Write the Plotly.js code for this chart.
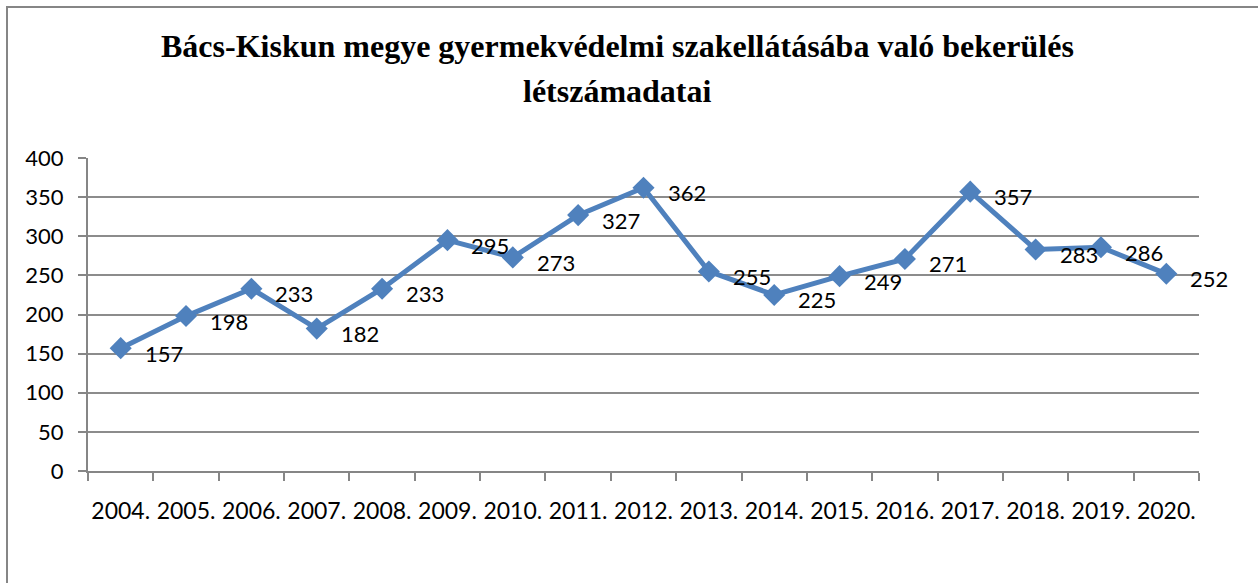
<!DOCTYPE html>
<html>
<head>
<meta charset="utf-8">
<script src="https://cdn.plot.ly/plotly-3.0.1.min.js"></script>
<style>
  html, body { margin: 0; padding: 0; background: #fff; overflow: hidden; }
  #chart { width: 1258px; height: 583px; }
  #frame { position: absolute; left: 6px; top: 6px; width: 1300px; height: 640px;
           border-left: 2px solid #868686; border-top: 2px solid #868686; pointer-events: none; }
</style>
</head>
<body>
<div id="chart"></div>
<div id="frame"></div>
<script>
const years = ["2004.", "2005.", "2006.", "2007.", "2008.", "2009.", "2010.", "2011.", "2012.",
               "2013.", "2014.", "2015.", "2016.", "2017.", "2018.", "2019.", "2020."];
const values = [157, 198, 233, 182, 233, 295, 273, 327, 362, 255, 225, 249, 271, 357, 283, 286, 252];
const yTicks = [0, 50, 100, 150, 200, 250, 300, 350, 400];
const titleLine1 = "Bács-Kiskun megye gyermekvédelmi szakellátásába való bekerülés";
const titleLine2 = "létszámadatai";

const FONT = "Lato, 'Open Sans', sans-serif";
const SERIF = "'Liberation Serif', 'DejaVu Serif', serif";

const trace = {
  x: years,
  y: values,
  type: "scatter",
  mode: "lines+markers",
  line: { color: "#4F81BD", width: 5 },
  marker: { symbol: "diamond", size: 17, color: "#4F81BD" },
  cliponaxis: false,
  hoverinfo: "x+y"
};

// data labels placed through the category axis (by category index) and the y axis
const labelAnnotations = years.map((yr, i) => ({
  x: i, y: values[i], xref: "x", yref: "y",
  text: String(values[i]), showarrow: false,
  xanchor: "left", yanchor: "middle", xshift: 22, yshift: -5,
  font: { family: FONT, size: 22, color: "#000" }
}));

const layout = {
  width: 1258, height: 583,
  margin: { l: 88, r: 59, t: 158, b: 112 },
  paper_bgcolor: "#fff", plot_bgcolor: "#fff",
  showlegend: false,
  font: { family: FONT, size: 22, color: "#000" },
  xaxis: {
    type: "category",
    tickson: "boundaries",
    tickangle: 0,
    ticks: "outside", ticklen: 8, tickcolor: "#868686", tickwidth: 2,
    showline: true, linecolor: "#868686", linewidth: 2,
    showgrid: false, zeroline: false,
    ticklabelstandoff: 18,
    tickfont: { family: FONT, size: 23, color: "#000" },
    range: [-0.5, 16.5]
  },
  yaxis: {
    range: [0, 400],
    tickvals: yTicks,
    ticks: "outside", ticklen: 8, tickcolor: "#868686", tickwidth: 2,
    showline: true, linecolor: "#868686", linewidth: 2,
    showgrid: true, gridcolor: "#8c8c8c", gridwidth: 2,
    zeroline: false,
    ticklabelstandoff: 10,
    tickfont: { family: FONT, size: 22, color: "#000" }
  },
  annotations: [
    { text: "<b>" + titleLine1 + "</b>", xref: "paper", yref: "paper", x: 0.477, y: 1,
      yshift: 112, showarrow: false, xanchor: "center", yanchor: "middle",
      font: { family: SERIF, size: 32, color: "#000" } },
    { text: "<b>" + titleLine2 + "</b>", xref: "paper", yref: "paper", x: 0.477, y: 1,
      yshift: 67, showarrow: false, xanchor: "center", yanchor: "middle",
      font: { family: SERIF, size: 32, color: "#000" } }
  ].concat(labelAnnotations)
};

Plotly.newPlot("chart", [trace], layout, { displayModeBar: false, staticPlot: true });
</script>
</body>
</html>
